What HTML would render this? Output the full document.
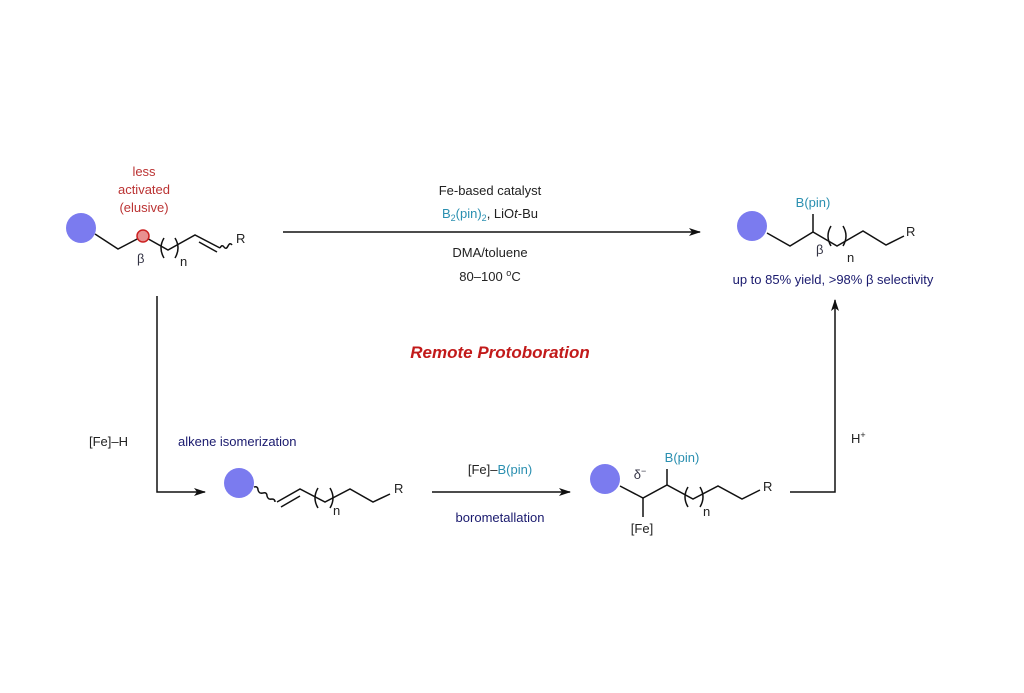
<!DOCTYPE html>
<html><head><style>body{margin:0;background:#fff}svg{display:block}text{font-family:"Liberation Sans",sans-serif;font-size:13px;fill:#222}</style></head><body>
<svg width="1024" height="693" viewBox="0 0 1024 693" xmlns="http://www.w3.org/2000/svg">
<defs><marker id="a" markerWidth="12" markerHeight="8" refX="11" refY="4" orient="auto" markerUnits="userSpaceOnUse"><path d="M0,0 L12,4 L0,8 L3,4 z" fill="#111"/></marker></defs>
<g stroke="#111" stroke-width="1.5" fill="none">
<!-- top-left molecule -->
<polyline points="95,234 118,249 143,236 168,250 195,235 220,248"/>
<line x1="199" y1="242" x2="217" y2="252"/>
<path d="M220,248 q2,-4 4,-1 q2,3 4,-1 q2,-4 4,-1"/>
<path d="M164,238 q-6,10 0,20"/><path d="M175,238 q6,10 0,20"/>
<!-- product -->
<polyline points="767,233 790,246 813,232 837,246 863,231 886,245 904,236"/>
<line x1="813" y1="232" x2="813" y2="214"/>
<path d="M831,226 q-6,10 0,20"/><path d="M843,226 q6,10 0,20"/>
<!-- middle bottom -->
<path d="M254,487 q4,-1 4,3 q1,4 5,3 q4,-1 4,3 q1,4 5,3 q3,0 3,3"/>
<polyline points="277,502 300,489 325,502 350,489 373,502 390,494"/>
<line x1="281" y1="507" x2="300" y2="496"/>
<path d="M318,488 q-6,10 0,20"/><path d="M330,488 q6,10 0,20"/>
<!-- right bottom -->
<polyline points="620,486 643,498 667,485 693,499 718,486 742,499 760,490"/>
<line x1="667" y1="485" x2="667" y2="469"/><line x1="643" y1="498" x2="643" y2="517"/>
<path d="M688,487 q-6,10 0,20"/><path d="M700,487 q6,10 0,20"/>
<!-- arrows -->
<line x1="283" y1="232" x2="700" y2="232" marker-end="url(#a)"/>
<polyline points="157,296 157,492 205,492" marker-end="url(#a)"/>
<line x1="432" y1="492" x2="570" y2="492" marker-end="url(#a)"/>
<polyline points="790,492 835,492 835,300" marker-end="url(#a)"/>
</g>
<g fill="#7b7bef"><circle cx="81" cy="228" r="15"/><circle cx="752" cy="226" r="15"/><circle cx="239" cy="483" r="15"/><circle cx="605" cy="479" r="15"/></g>
<circle cx="143" cy="236" r="6" fill="#e89090" stroke="#c22" stroke-width="1.5"/>
<g text-anchor="middle"><text x="144" y="176" style="fill:#b33">less</text><text x="144" y="194" style="fill:#b33">activated</text><text x="144" y="212" style="fill:#b33">(elusive)</text></g>
<text x="137" y="263" style="fill:#334">β</text><text x="180" y="266">n</text>
<text x="236" y="243">R</text>
<text x="816" y="254" style="fill:#334">β</text><text x="847" y="262">n</text><text x="906" y="236">R</text>
<text x="813" y="207" text-anchor="middle" style="fill:#2a8fb0">B(pin)</text>
<text x="833" y="284" text-anchor="middle" style="fill:#1a1a6e">up to 85% yield, &gt;98% β selectivity</text>
<text x="490" y="195" text-anchor="middle">Fe-based catalyst</text>
<text x="490" y="218" text-anchor="middle"><tspan style="fill:#2a8fb0">B<tspan font-size="9" dy="3">2</tspan><tspan dy="-3">(pin)</tspan><tspan font-size="9" dy="3">2</tspan></tspan><tspan dy="-3">, LiO</tspan><tspan font-style="italic">t</tspan>-Bu</text>
<text x="490" y="257" text-anchor="middle">DMA/toluene</text>
<text x="490" y="281" text-anchor="middle">80–100 <tspan font-size="9" dy="-5">o</tspan><tspan dy="5">C</tspan></text>
<text x="500" y="358" text-anchor="middle" style="fill:#c21a1a;font-size:17px;font-weight:bold;font-style:italic">Remote Protoboration</text>
<text x="89" y="446">[Fe]–H</text>
<text x="178" y="446" style="fill:#1a1a6e">alkene isomerization</text>
<text x="333" y="515">n</text><text x="394" y="493">R</text>
<text x="500" y="474" text-anchor="middle">[Fe]–<tspan style="fill:#2a8fb0">B(pin)</tspan></text>
<text x="500" y="522" text-anchor="middle" style="fill:#1a1a6e">borometallation</text>
<text x="640" y="479" text-anchor="middle" style="fill:#334">δ<tspan font-size="9" dy="-5">−</tspan></text>
<text x="682" y="462" text-anchor="middle" style="fill:#2a8fb0">B(pin)</text>
<text x="642" y="533" text-anchor="middle">[Fe]</text>
<text x="703" y="516">n</text><text x="763" y="491">R</text>
<text x="851" y="443">H<tspan font-size="9" dy="-5">+</tspan></text>
</svg>
</body></html>
